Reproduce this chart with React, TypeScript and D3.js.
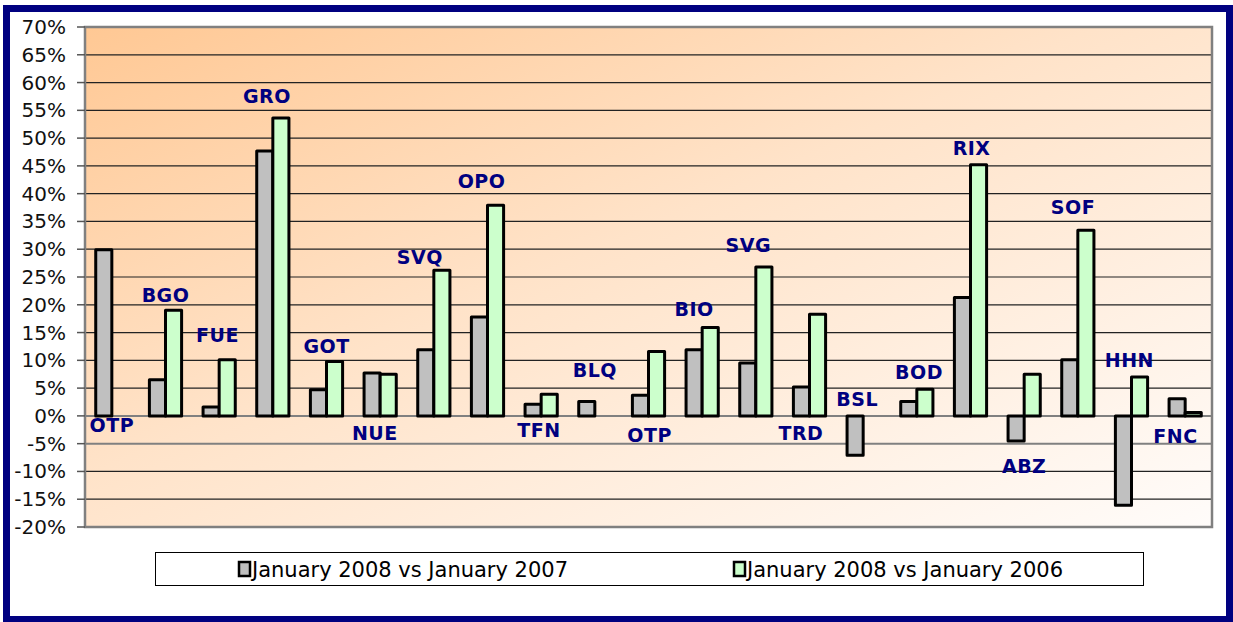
import React from "react";
import * as d3 from "d3";

const categories = ["OTP","BGO","FUE","GRO","GOT","NUE","SVQ","OPO","TFN","BLQ","OTP","BIO","SVG","TRD","BSL","BOD","RIX","ABZ","SOF","HHN","FNC"];
const vs2007: (number|null)[] = [29.9,6.5,1.6,47.7,4.7,7.7,11.9,17.8,2.1,2.6,3.7,11.9,9.5,5.2,-7.1,2.6,21.3,-4.5,10.1,-16.1,3.1];
const vs2006: (number|null)[] = [null,19.0,10.1,53.6,9.8,7.5,26.2,37.9,3.9,null,11.6,15.9,26.8,18.3,null,4.8,45.2,7.5,33.4,7.0,0.6];
// label anchor (value in %) and horizontal shift (fraction of category band)
const labelValue = [-2.9,20.5,13.3,56.3,11.3,-4.3,27.4,41.0,-3.8,7.0,-4.7,18.0,29.5,-4.3,1.8,6.7,47.0,-10.2,36.4,8.8,-4.9];
const labelShift = [0,0,-0.03,-0.11,0,-0.1,-0.26,-0.11,-0.04,0,0.02,-0.15,-0.14,-0.16,-0.11,0.04,0.02,0,-0.09,-0.04,-0.18];
const yTicks = d3.range(-20, 71, 5);
const seriesNames = ["January 2008 vs January 2007","January 2008 vs January 2006"];
const seriesColors = ["#C0C0C0","#CCFFCC"];

export default function App() {
  const W = 1233, H = 622;
  const left = 85, right = 1212, top = 27, bottom = 527;
  const x = d3.scaleBand<number>().domain(d3.range(categories.length)).range([left, right]).padding(0);
  const y = d3.scaleLinear().domain([-20, 70]).range([bottom, top]);
  const bw = x.bandwidth() * 0.3;
  const series = [vs2007, vs2006];
  const fmt = (v: number) => `${v}%`;

  return (
    <svg width={W} height={H} style={{ position: "absolute", left: 0, top: 0 }} fontFamily="DejaVu Sans, Verdana, sans-serif">
      <defs>
        <linearGradient id="bg" x1="0" y1="0" x2="1" y2="1">
          <stop offset="0" stopColor="#FFC894" />
          <stop offset="0.45" stopColor="#FFE3C9" />
          <stop offset="1" stopColor="#FFFCFA" />
        </linearGradient>
      </defs>
      <rect x={0} y={0} width={W} height={H} fill="#fff" />
      <rect x={6.5} y={8.5} width={1223} height={611} fill="#fff" stroke="#000080" strokeWidth={7} />
      {/* plot area */}
      <rect x={left} y={top} width={right - left} height={bottom - top} fill="url(#bg)" />
      {yTicks.map((t) => (
        <line key={"g" + t} x1={left} x2={right} y1={y(t)} y2={y(t)}
          stroke={t === 0 || t === -5 ? "#808080" : "#222"} strokeWidth={t === 0 || t === -5 ? 2 : 1.2} />
      ))}
      <rect x={left} y={top} width={right - left} height={bottom - top} fill="none" stroke="#808080" strokeWidth={2.5} />
      {/* y axis */}
      {yTicks.map((t) => (
        <g key={"t" + t}>
          <line x1={left - 8} x2={left} y1={y(t)} y2={y(t)} stroke="#555" strokeWidth={1.5} />
          <text x={66} y={y(t)} textAnchor="end" dominantBaseline="central" fontSize={20} fill="#111">{fmt(t)}</text>
        </g>
      ))}
      {/* bars */}
      {series.map((s, si) =>
        s.map((v, i) => {
          if (v === null) return null;
          const cx = (x(i) as number) + x.bandwidth() / 2;
          const bx = cx - bw + si * bw;
          const y0 = y(0), y1 = y(v);
          return (
            <rect key={si + "-" + i} x={bx} y={Math.min(y0, y1)} width={bw} height={Math.abs(y1 - y0)}
              fill={seriesColors[si]} stroke="#000" strokeWidth={3} strokeLinejoin="round" />
          );
        })
      )}
      {/* category labels */}
      {categories.map((c, i) => (
        <text key={"l" + i} x={(x(i) as number) + x.bandwidth() * (0.5 + labelShift[i])} y={y(labelValue[i])}
          textAnchor="middle" fontSize={19} fontWeight="bold" fill="#000080" letterSpacing={0.5}>{c}</text>
      ))}
      {/* legend */}
      <rect x={155.5} y={552.5} width={988} height={33} fill="#fff" stroke="#000" strokeWidth={1} />
      {seriesNames.map((n, i) => {
        const lx = i === 0 ? 239 : 734;
        return (
          <g key={"lg" + i}>
            <rect x={lx} y={562} width={11} height={14} fill={seriesColors[i]} stroke="#000" strokeWidth={2.5} />
            <text x={lx + 13} y={577} fontSize={21} fill="#000" fontFamily="DejaVu Sans Condensed, Liberation Sans Narrow, DejaVu Sans" fontStretch="condensed" textLength={316} lengthAdjust="spacingAndGlyphs">{n}</text>
          </g>
        );
      })}
    </svg>
  );
}
